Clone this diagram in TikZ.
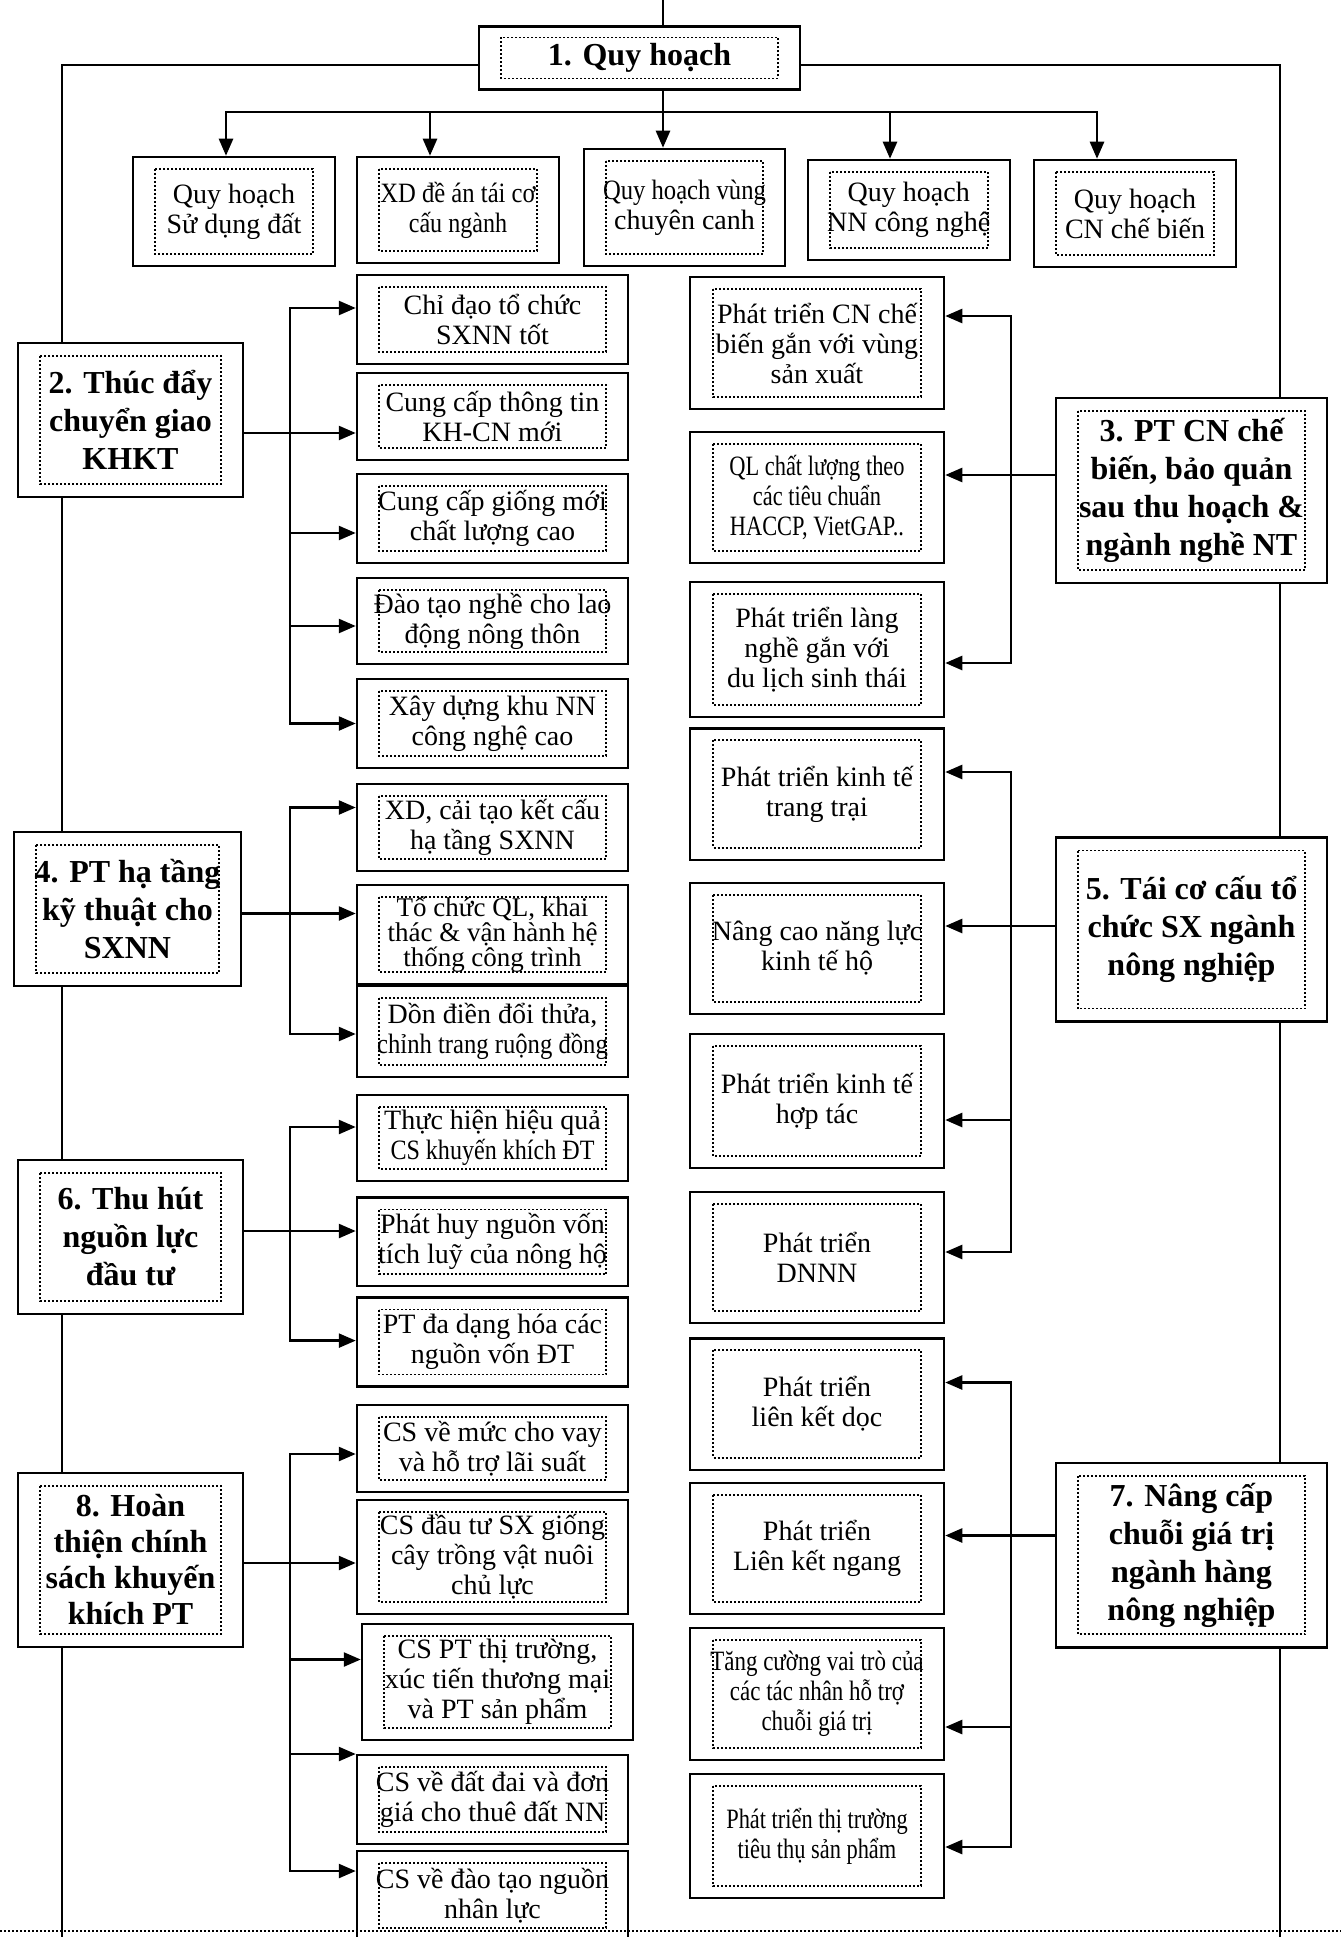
\documentclass[tikz,border=0pt]{standalone}
\usepackage{fontspec}
\usepackage{graphicx}
\setmainfont{Liberation Serif}
\usetikzlibrary{arrows.meta,backgrounds}
\newcommand{\sqz}[2][0.8]{\scalebox{#1}[1]{#2}}

\begin{document}
\begin{tikzpicture}[x=1pt, y=-1pt,
  inframe/.style 2 args={path picture={\draw[line width=1.8pt, dash pattern=on 2pt off 2pt]
    ([shift={(#1pt,-#2pt)}]path picture bounding box.north west) rectangle
    ([shift={(-#1pt,#2pt)}]path picture bounding box.south east);}},
  cell/.style={draw, line width=2.5pt, fill=white, align=center, inner sep=0pt,
    font=\fontsize{28}{30}\selectfont, inframe={22}{12}},
  mcol/.style={cell, minimum width=271pt},
  rcol/.style={cell, minimum width=254pt, inframe={23}{12}},
  head/.style={cell, font=\bfseries\fontsize{32}{38}\selectfont, inframe={22}{13}},
  link/.style={line width=2.5pt},
  arr/.style={link, -{Triangle[length=17pt,width=14pt]}}]
% Page frame
\useasboundingbox (0,0) rectangle (1341,1937);
\clip (0,0) rectangle (1341,1937);

% Top box
\node[head, minimum width=321pt, minimum height=63pt, inframe={22}{11}] (plan) at (639.5,58) {1. Quy hoạch};

% Planning boxes
\node[cell, minimum width=202pt, minimum height=109pt] (q1) at (234,211.5) {Quy hoạch\\Sử dụng đất};
\node[cell, minimum width=202pt, minimum height=106pt] (q2) at (458,210) {\sqz[0.88]{XD đề án tái cơ}\\\sqz[0.86]{cấu ngành}};
\node[cell, minimum width=201pt, minimum height=117pt] (q3) at (684.5,207.5) {\sqz[0.88]{Quy hoạch vùng}\\chuyên canh};
\node[cell, minimum width=202pt, minimum height=100pt] (q4) at (908.75,210) {Quy hoạch\\NN công nghệ};
\node[cell, minimum width=202pt, minimum height=107pt] (q5) at (1135,213.5) {Quy hoạch\\CN chế biến};

% Left column
\node[head, minimum width=225pt, minimum height=154pt] (h2) at (130.5,420) {2. Thúc đẩy\\chuyển giao\\KHKT};
\node[head, minimum width=227pt, minimum height=154pt] (h4) at (127.5,909) {4. PT hạ tầng\\kỹ thuật cho\\SXNN};
\node[head, minimum width=225pt, minimum height=154pt] (h6) at (130.5,1237) {6. Thu hút\\nguồn lực\\đầu tư};
\node[head, minimum width=225pt, minimum height=174pt, font=\bfseries\fontsize{32}{36}\selectfont] (h8) at (130.5,1560) {8. Hoàn\\thiện chính\\sách khuyến\\khích PT};

% Middle left column
\node[mcol, minimum height=89pt] (m1) at (492.5,319.5) {Chỉ đạo tổ chức\\SXNN tốt};
\node[mcol, minimum height=87pt] (m2) at (492.5,416.5) {Cung cấp thông tin\\KH-CN mới};
\node[mcol, minimum height=89pt] (m3) at (492.5,518.5) {Cung cấp giống mới\\chất lượng cao};
\node[mcol, minimum height=86pt] (m4) at (492.5,621) {Đào tạo nghề cho lao\\động nông thôn};
\node[mcol, minimum height=89pt] (m5) at (492.5,723.5) {Xây dựng khu NN\\công nghệ cao};
\node[mcol, minimum height=87pt] (m6) at (492.5,827.5) {XD, cải tạo kết cấu\\hạ tầng SXNN};
\node[mcol, minimum height=99pt, font=\fontsize{27}{25}\selectfont] (m7) at (492.5,934.5) {Tổ chức QL, khai\\thác \& vận hành hệ\\thống công trình};
\node[mcol, minimum height=91pt] (m8) at (492.5,1031.5) {Dồn điền đổi thửa,\\\sqz[0.88]{chỉnh trang ruộng đồng}};
\node[mcol, minimum height=86pt] (m9) at (492.5,1138) {Thực hiện hiệu quả\\\sqz[0.86]{CS khuyến khích ĐT}};
\node[mcol, minimum height=88.5pt] (m10) at (492.5,1241.75) {Phát huy nguồn vốn\\tích luỹ của nông hộ};
\node[mcol, minimum height=89pt] (m11) at (492.5,1342) {PT đa dạng hóa các\\nguồn vốn ĐT};
\node[mcol, minimum height=87pt] (m12) at (492.5,1448.5) {CS về mức cho vay\\và hỗ trợ lãi suất};
\node[mcol, minimum height=114pt] (m13) at (492.5,1557) {CS đầu tư SX giống\\cây trồng vật nuôi\\chủ lực};
\node[mcol, minimum height=116pt] (m14) at (497.5,1682) {CS PT thị trường,\\xúc tiến thương mại\\và PT sản phẩm};
\node[mcol, minimum height=89pt] (m15) at (492.5,1799.5) {CS về đất đai và đơn\\giá cho thuê đất NN};
\node[mcol, minimum height=89pt] (m16) at (492.5,1895.5) {CS về đào tạo nguồn\\nhân lực};

% Middle right column
\node[rcol, minimum height=132pt] (r1) at (817,343) {Phát triển CN chế\\biến gắn với vùng\\sản xuất};
\node[rcol, minimum height=131pt] (r2) at (817,497.5) {\sqz[0.8]{QL chất lượng theo}\\\sqz[0.8]{các tiêu chuẩn}\\\sqz[0.8]{HACCP, VietGAP..}};
\node[rcol, minimum height=135pt] (r3) at (817,649.5) {Phát triển làng\\nghề gắn với\\du lịch sinh thái};
\node[rcol, minimum height=131.5pt] (r4) at (817,794) {Phát triển kinh tế\\trang trại};
\node[rcol, minimum height=131pt] (r5) at (817,948.5) {Nâng cao năng lực\\kinh tế hộ};
\node[rcol, minimum height=134pt] (r6) at (817,1101) {Phát triển kinh tế\\hợp tác};
\node[rcol, minimum height=131pt] (r7) at (817,1257.5) {Phát triển\\DNNN};
\node[rcol, minimum height=131.5pt] (r8) at (817,1404) {Phát triển\\liên kết dọc};
\node[rcol, minimum height=131pt] (r9) at (817,1548.5) {Phát triển\\Liên kết ngang};
\node[rcol, minimum height=132pt] (r10) at (817,1694) {\sqz[0.82]{Tăng cường vai trò của}\\\sqz[0.82]{các tác nhân hỗ trợ}\\\sqz[0.82]{chuỗi giá trị}};
\node[rcol, minimum height=124pt] (r11) at (817,1836) {\sqz[0.8]{Phát triển thị trường}\\\sqz[0.8]{tiêu thụ sản phẩm}};

% Right column
\node[head, minimum width=271pt, minimum height=185pt] (h3) at (1191.5,490.5) {3. PT CN chế\\biến, bảo quản\\sau thu hoạch \&\\ngành nghề NT};
\node[head, minimum width=271pt, minimum height=184pt] (h5) at (1191.5,929.5) {5. Tái cơ cấu tổ\\chức SX ngành\\nông nghiệp};
\node[head, minimum width=271pt, minimum height=184.5pt] (h7) at (1191.5,1555) {7. Nâng cấp\\chuỗi giá trị\\ngành hàng\\nông nghiệp};

% Top connectors
\coordinate (top) at (663,0);
\coordinate (j1) at (663,112);
\draw[link] (top) -- (top |- plan.north);
\draw[link] (j1 |- plan.south) -- (j1);
\foreach \n/\dx in {q1/-8, q2/-28, q3/-21.5, q4/-18.75, q5/-38}
  \draw[arr] (j1) -| ([xshift=\dx pt]\n.north);

% Left groups
\coordinate (j2) at (290,433);
\coordinate (j4) at (290,913.6);
\coordinate (j6) at (290,1231);
\coordinate (j8) at (290,1563);
\draw[link] (h2.east |- j2) -- (j2);
\draw[link] (h4.east |- j4) -- (j4);
\draw[link] (h6.east |- j6) -- (j6);
\draw[link] (h8.east |- j8) -- (j8);
\foreach \n/\dy in {m1/11.5, m2/-16.5, m3/-14.5, m4/-5, m5/0}
  \draw[arr] (j2) |- ([yshift=\dy pt]\n.west);
\foreach \n/\dy in {m6/20, m7/21, m8/-2.5}
  \draw[arr] (j4) |- ([yshift=\dy pt]\n.west);
\foreach \n/\dy in {m9/11, m10/10.75, m11/1.4}
  \draw[arr] (j6) |- ([yshift=\dy pt]\n.west);
\foreach \n/\dy in {m12/-5.5, m13/-6, m14/22.5, m15/45.5, m16/24.5}
  \draw[arr] (j8) |- ([yshift=\dy pt]\n.west);

% Right groups
\coordinate (j3) at (1011,475);
\coordinate (j5) at (1011,926);
\coordinate (j7) at (1011,1535.6);
\draw[link] (h3.west |- j3) -- (j3);
\draw[link] (h5.west |- j5) -- (j5);
\draw[link] (h7.west |- j7) -- (j7);
\foreach \n/\dy in {r1/27, r2/22.5, r3/-13.5}
  \draw[arr] (j3) |- ([yshift=\dy pt]\n.east);
\foreach \n/\dy in {r4/22, r5/22.5, r6/-19, r7/5.5}
  \draw[arr] (j5) |- ([yshift=\dy pt]\n.east);
\foreach \n/\dy in {r8/21.5, r9/13, r10/-33, r11/-11}
  \draw[arr] (j7) |- ([yshift=\dy pt]\n.east);

% Outer loop behind the boxes
\coordinate (ltop) at (62,65);
\coordinate (lbot) at (62,1937);
\coordinate (rtop) at (1280,65);
\coordinate (rbot) at (1280,1937);
\begin{scope}[on background layer]
\draw[link] (plan.west |- ltop) -- (ltop) -- (lbot);
\draw[link] (plan.east |- rtop) -- (rtop) -- (rbot);
\end{scope}

% Page break line
\coordinate (pl) at (0,1931);
\coordinate (pr) at (1341,1931);
\draw[line width=2pt, dash pattern=on 2pt off 2pt] (pl) -- (pr);
\end{tikzpicture}
\end{document}
